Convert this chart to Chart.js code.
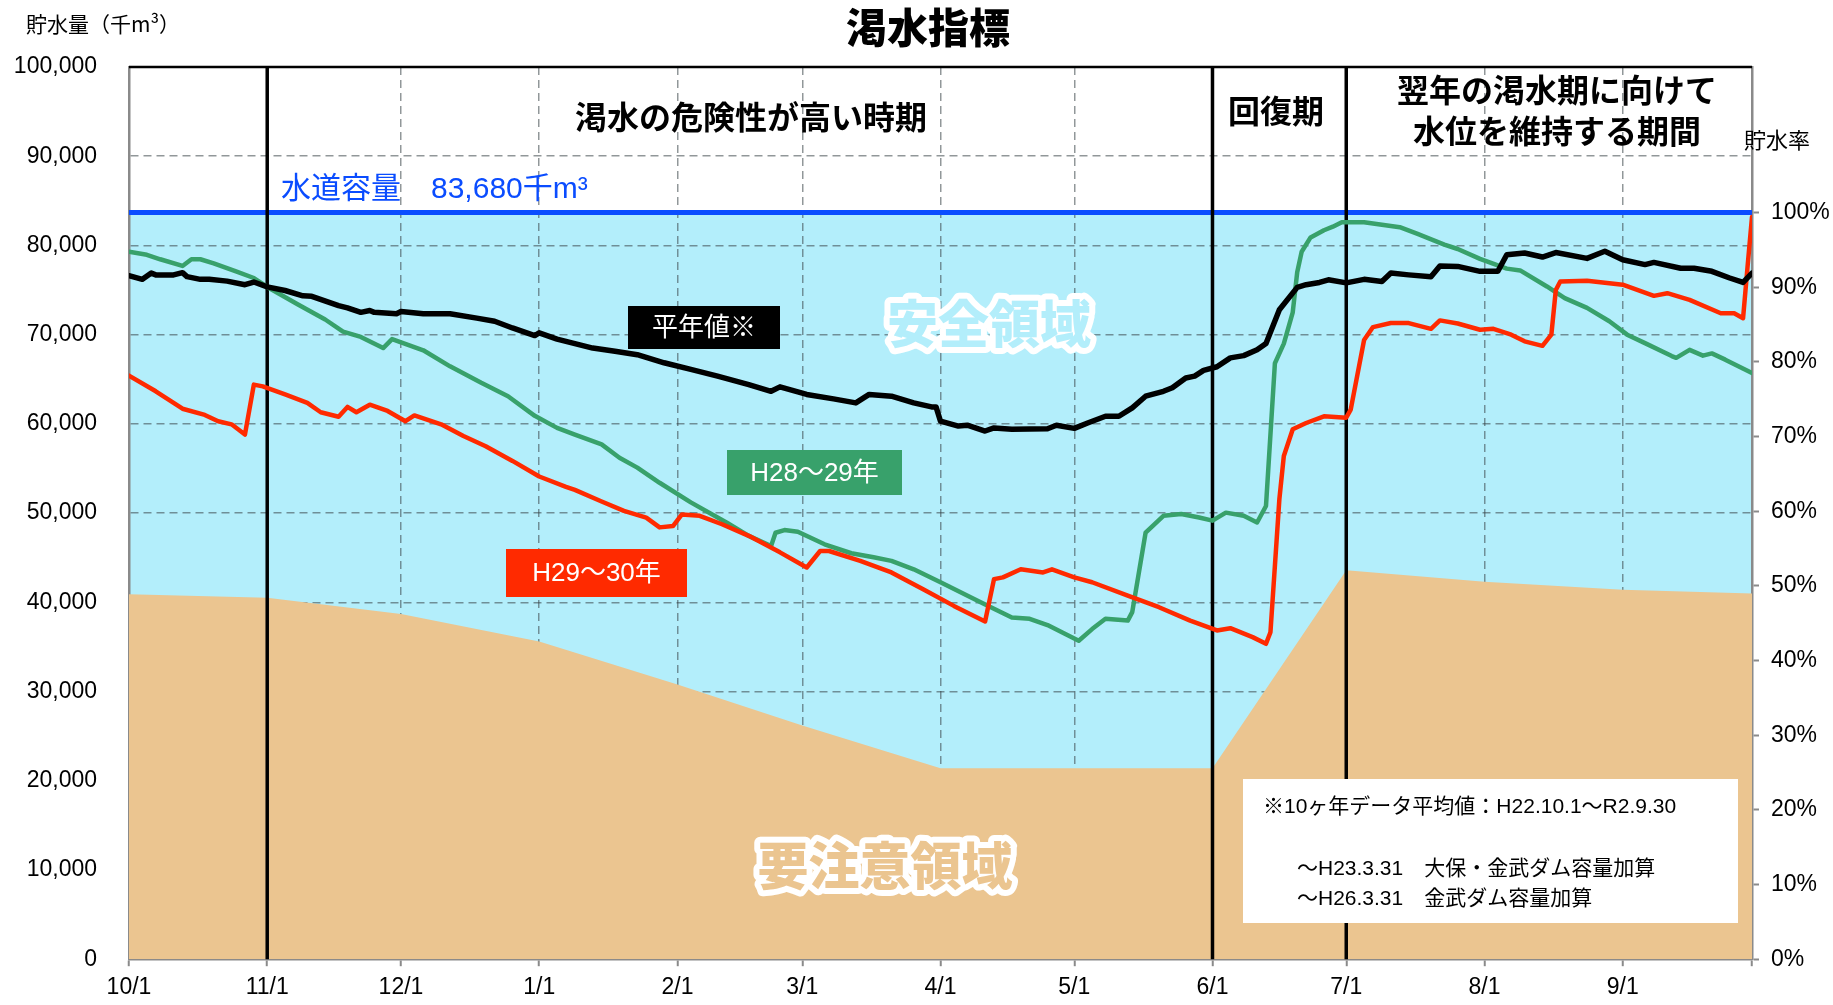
<!DOCTYPE html>
<html lang="ja">
<head>
<meta charset="utf-8">
<title>渇水指標</title>
<script src="https://cdn.jsdelivr.net/npm/chart.js@4.4.1/dist/chart.umd.min.js"></script>
<style>
  html, body { margin: 0; padding: 0; background: #fff; }
  canvas { display: block; }
</style>
</head>
<body>
<canvas id="myChart" width="1833" height="1005" style="width:1833px;height:1005px"></canvas>
<script>
/*------------------------------data------------------------------------*/
// x = day index from 10/1 (0) to 9/30 (364)
const TICK_DAYS = [0, 31, 61, 92, 123, 151, 182, 212, 243, 273, 304, 335, 364];
const TICK_LABELS = ["10/1", "11/1", "12/1", "1/1", "2/1", "3/1", "4/1", "5/1", "6/1", "7/1", "8/1", "9/1", ""];
const RATE_TICKS = [0, 10, 20, 30, 40, 50, 60, 70, 80, 90, 100];
const CAPACITY = 83680;          // 水道容量 (千m3) = 100%
const PERIOD_DAYS = [31, 243, 273]; // 11/1, 6/1, 7/1

// 要注意領域 boundary
const CAUTION_DAYS = [0, 31, 61, 92, 123, 151, 182, 212, 243, 273, 304, 335, 364];
const CAUTION_VALUES = [40900, 40500, 38700, 35600, 30800, 26200, 21400, 21400, 21400, 43600, 42300, 41400, 41000];

// 平年値※
const AVG_DAYS = [0, 3, 5, 6, 10, 12, 13, 16, 18, 22, 26, 28, 31, 35, 39, 41, 47, 49, 52, 54, 55, 60, 61, 66, 72, 78, 82, 86, 91, 92,
  96, 100, 104, 109, 114, 120, 126, 132, 139, 144, 146, 152, 158, 163, 166, 171, 176, 180, 181, 182, 186, 188, 192, 194, 198,
  206, 208, 212, 215, 219, 222, 225, 228, 232, 234, 237, 239, 241, 244, 247, 250, 253, 255, 258, 262, 264, 267, 269, 273, 277,
  281, 283, 287, 292, 294, 298, 303, 307, 309, 313, 317, 320, 327, 330, 331, 335, 340, 342, 348, 351, 355, 359, 362, 364];
const AVG_VALUES = [76600, 76200, 76900, 76700, 76700, 76950, 76500, 76200, 76200, 76000, 75600, 75900, 75350, 74950, 74350, 74300,
  73250, 73000, 72500, 72700, 72500, 72350, 72600, 72350, 72350, 71850, 71500, 70750, 69900, 70200,
  69500, 69000, 68500, 68150, 67750, 66850, 66100, 65350, 64400, 63650, 64150, 63300, 62800, 62350, 63300, 63100, 62350, 61900,
  61900, 60300, 59750, 59850, 59200, 59550, 59400,
  59450, 59850, 59500, 60100, 60850, 60850, 61800, 63100, 63650, 64050, 65150, 65350, 66000, 66400, 67400, 67650, 68300, 69000,
  72800, 75300, 75600, 75850, 76150, 75800, 76200,
  75950, 76900, 76700, 76500, 77700, 77650, 77100, 77100, 78950, 79150, 78700, 79200, 78550, 79150, 79350, 78400, 77850, 78100,
  77450, 77450, 77100, 76350, 75850, 76900];

// H28～29年
const H28_DAYS = [0, 4, 7, 12, 14, 16, 19, 24, 28, 31, 38, 44, 48, 52, 57, 59, 66, 72, 79, 85, 91, 96, 100, 106, 110, 114, 119, 126,
  134, 139, 144, 145, 147, 150, 156, 162, 167, 171, 176, 182, 191, 198, 202, 206, 213, 216, 219, 224, 225, 228, 232, 236, 240,
  243, 246, 250, 253, 255, 257, 259, 261, 262, 263, 265, 268, 270, 272, 277, 285, 289, 295, 298, 303, 309, 312, 318, 322, 327,
  332, 336, 340, 346, 347, 350, 353, 355, 358, 364];
const H28_VALUES = [79300, 78950, 78450, 77700, 78450, 78450, 78000, 77100, 76350, 75350, 73350, 71700, 70350, 69750, 68500, 69500,
  68250, 66450, 64600, 63100, 60900, 59550, 58800, 57700, 56200, 55100, 53400, 51200,
  48950, 47450, 46300, 47800, 48100, 47900, 46500, 45500, 45050, 44650, 43700, 42250, 40000, 38300, 38150, 37450, 35700, 37000,
  38150, 37950, 38900, 47800, 49700, 49900, 49500,
  49150, 50050, 49700, 48950, 50800, 66800, 69000, 72500, 77000, 79300, 80900, 81700, 82100, 82600, 82600, 82050, 81300, 80100,
  79600, 78500, 77400, 77200, 75400, 74100, 73000,
  71500, 70000, 69050, 67600, 67400, 68300, 67650, 67900, 67200, 65700];

// H29～30年
const H29_DAYS = [0, 6, 12, 17, 20, 23, 26, 28, 30, 35, 40, 43, 47, 49, 51, 54, 58, 62, 64, 70, 75, 80, 86, 92, 98, 100, 106, 111,
  116, 119, 122, 124, 128, 133, 139, 146, 152, 155, 157, 164, 171, 178, 185, 192, 194, 196, 200, 205, 207, 212, 216, 224, 231,
  238, 244, 247, 252, 255, 256, 258, 259, 261, 264, 268, 273, 274, 277, 279, 283, 287, 292, 294, 298, 303, 306, 310, 313, 317,
  319, 320, 321, 327, 335, 342, 345, 350, 357, 360, 362, 363, 364];
const H29_VALUES = [65400, 63650, 61700, 61000, 60300, 59950, 58800, 64400, 64200, 63300, 62350, 61300, 60800, 61900, 61300, 62150,
  61450, 60300, 60950, 59950, 58650, 57500, 55850, 54100, 52950, 52600, 51300, 50250,
  49500, 48400, 48550, 49850, 49700, 48750, 47450, 45600, 43900, 45750, 45750, 44650, 43350, 41500, 39600, 37850, 42600, 42800,
  43700, 43350, 43700, 42800, 42250, 40750, 39450,
  37950, 36850, 37100, 36100, 35350, 36650, 51550, 56400, 59400, 60100, 60850, 60700, 61600, 69400, 70850, 71300, 71300, 70650,
  71600, 71250, 70550, 70650, 70000, 69250, 68750,
  70000, 75000, 75950, 76050, 75600, 74350, 74650, 73900, 72400, 72400, 71850, 77600, 83200];

/*------------------------------styles------------------------------------*/
const SAFE_COLOR = '#b3eefb';
const CAUTION_COLOR = '#ebc590';
const GREEN = '#38a16b';
const RED = '#ff2a00';
const BLUE = '#0a4cff';
const FONT = "'Liberation Sans', 'Noto Sans CJK JP', sans-serif";
const JP_FONT = "'Noto Sans CJK JP', sans-serif";

const toPoints = (days, values) => days.map((d, i) => ({ x: d, y: values[i] }));

// light blue area under the capacity line, painted before the grid
const backdrop = {
  id: 'backdrop',
  beforeDraw(chart) {
    const { ctx, chartArea: a, scales: { y } } = chart;
    const top = y.getPixelForValue(CAPACITY);
    ctx.save();
    ctx.fillStyle = SAFE_COLOR;
    ctx.fillRect(a.left, top, a.right - a.left, a.bottom - top);
    ctx.restore();
  }
};

function tag(ctx, text, x, y, w, h, bg) {
  ctx.fillStyle = bg;
  ctx.fillRect(x, y, w, h);
  ctx.fillStyle = '#fff';
  ctx.font = `26px ${FONT}`;
  ctx.textAlign = 'center';
  ctx.textBaseline = 'middle';
  ctx.fillText(text, x + w / 2, y + h / 2 + 1);
}

function outlined(ctx, text, x, y, size, fill) {
  ctx.font = `900 ${size}px ${JP_FONT}`;
  ctx.textAlign = 'center';
  ctx.textBaseline = 'middle';
  ctx.lineJoin = 'round';
  ctx.lineWidth = 12;
  ctx.strokeStyle = '#fff';
  ctx.strokeText(text, x, y);
  ctx.fillStyle = fill;
  ctx.fillText(text, x, y);
}

const overlay = {
  id: 'overlay',
  afterDraw(chart) {
    const { ctx, chartArea: a } = chart;
    ctx.save();
    // top frame
    ctx.strokeStyle = '#000';
    ctx.lineWidth = 2.5;
    ctx.beginPath();
    ctx.moveTo(a.left, a.top);
    ctx.lineTo(a.right, a.top);
    ctx.stroke();

    // title
    ctx.fillStyle = '#000';
    ctx.textAlign = 'center';
    ctx.textBaseline = 'middle';
    ctx.font = `900 41px ${JP_FONT}`;
    ctx.fillText('渇水指標', 928, 27);

    // axis titles
    ctx.textAlign = 'left';
    ctx.font = `21px ${JP_FONT}`;
    ctx.fillText('貯水量（千m³）', 26, 24);
    ctx.font = `22px ${JP_FONT}`;
    ctx.fillText('貯水率', 1744, 140);

    // period headings
    ctx.textAlign = 'center';
    ctx.font = `bold 32px ${JP_FONT}`;
    ctx.fillText('渇水の危険性が高い時期', 751, 117);
    ctx.fillText('回復期', 1276, 111);
    ctx.fillText('翌年の渇水期に向けて', 1557, 90);
    ctx.fillText('水位を維持する期間', 1557, 131);

    // capacity label
    ctx.textAlign = 'left';
    ctx.fillStyle = BLUE;
    ctx.font = `30px ${FONT}`;
    ctx.fillText('水道容量', 281, 190);
    ctx.fillText('83,680千m³', 431, 190);

    // series tags
    tag(ctx, '平年値※', 628, 306, 152, 43, '#000');
    tag(ctx, 'H28～29年', 727, 450, 175, 45, GREEN);
    tag(ctx, 'H29～30年', 506, 549, 181, 48, RED);

    // regions
    outlined(ctx, '安全領域', 989, 324, 51, SAFE_COLOR);
    outlined(ctx, '要注意領域', 885, 866, 51, CAUTION_COLOR);

    // note box
    ctx.fillStyle = '#fff';
    ctx.fillRect(1243, 779, 495, 144);
    ctx.fillStyle = '#000';
    ctx.textAlign = 'left';
    ctx.font = `21px ${FONT}`;
    ctx.fillText('※10ヶ年データ平均値：H22.10.1～R2.9.30', 1263, 807);
    ctx.fillText('～H23.3.31　大保・金武ダム容量加算', 1297, 869);
    ctx.fillText('～H26.3.31　金武ダム容量加算', 1297, 899);
    ctx.restore();
  }
};

const dividerSets = PERIOD_DAYS.map(d => ({
  data: [{ x: d, y: 0 }, { x: d, y: 100000 }],
  borderColor: '#000',
  borderWidth: 3.5,
  fill: false,
  order: 5
}));

const ctx = document.getElementById('myChart').getContext('2d');
let waterChart = new Chart(ctx, {
  type: 'line',
  data: {
    datasets: [
      {
        label: '平年値※',
        data: toPoints(AVG_DAYS, AVG_VALUES),
        borderColor: '#000',
        borderWidth: 5.5,
        fill: false,
        order: 1
      },
      {
        label: 'H29～30年',
        data: toPoints(H29_DAYS, H29_VALUES),
        borderColor: RED,
        borderWidth: 4.5,
        fill: false,
        order: 2
      },
      {
        label: 'H28～29年',
        data: toPoints(H28_DAYS, H28_VALUES),
        borderColor: GREEN,
        borderWidth: 4.5,
        fill: false,
        order: 3
      },
      ...dividerSets,
      {
        label: '水道容量',
        data: [{ x: 0, y: CAPACITY }, { x: 364, y: CAPACITY }],
        borderColor: BLUE,
        borderWidth: 5,
        fill: false,
        order: 8
      },
      {
        label: '要注意領域',
        data: toPoints(CAUTION_DAYS, CAUTION_VALUES),
        borderWidth: 0,
        borderColor: CAUTION_COLOR,
        backgroundColor: CAUTION_COLOR,
        fill: 'origin',
        order: 10
      }
    ]
  },
  options: {
    responsive: false,
    animation: false,
    layout: { padding: { top: 67, left: 0, right: 0, bottom: 0 } },
    elements: { point: { radius: 0 }, line: { tension: 0, borderJoinStyle: 'round', borderCapStyle: 'round' } },
    plugins: { legend: { display: false }, tooltip: { enabled: false }, title: { display: false } },
    scales: {
      x: {
        type: 'linear',
        min: 0,
        max: 364,
        afterBuildTicks: s => { s.ticks = TICK_DAYS.map(v => ({ value: v })); },
        afterFit: s => { s.height = 43; },
        ticks: {
          autoSkip: false,
          maxRotation: 0,
          padding: 8,
          color: '#000',
          font: { size: 23, family: FONT },
          callback: (v, i) => TICK_LABELS[i]
        },
        grid: {
          color: 'rgba(55,65,70,0.55)',
          lineWidth: 1.5,
          drawTicks: true,
          tickLength: 7,
          tickColor: '#8a8a8a',
          tickWidth: 2
        },
        border: { display: true, color: '#8a8a8a', width: 2.5, dash: [8, 5] }
      },
      y: {
        min: 0,
        max: 100000,
        afterFit: s => { s.width = 129; },
        ticks: {
          stepSize: 10000,
          padding: 32,
          color: '#000',
          font: { size: 23, family: FONT },
          callback: v => v.toLocaleString('en-US')
        },
        grid: { color: 'rgba(55,65,70,0.55)', lineWidth: 1.5, drawTicks: false },
        border: { display: true, color: '#8a8a8a', width: 2.5, dash: [8, 5] }
      },
      y2: {
        position: 'right',
        min: 0,
        max: 100 * 100000 / CAPACITY,
        afterBuildTicks: s => { s.ticks = RATE_TICKS.map(v => ({ value: v })); },
        afterFit: s => { s.width = 81; },
        ticks: {
          padding: 12,
          color: '#000',
          font: { size: 23, family: FONT },
          callback: v => v + '%'
        },
        grid: { drawOnChartArea: false, drawTicks: true, tickLength: 7, tickColor: '#8a8a8a', tickWidth: 2 },
        border: { display: true, color: '#8a8a8a', width: 2.5 }
      }
    }
  },
  plugins: [backdrop, overlay]
});
</script>
</body>
</html>
